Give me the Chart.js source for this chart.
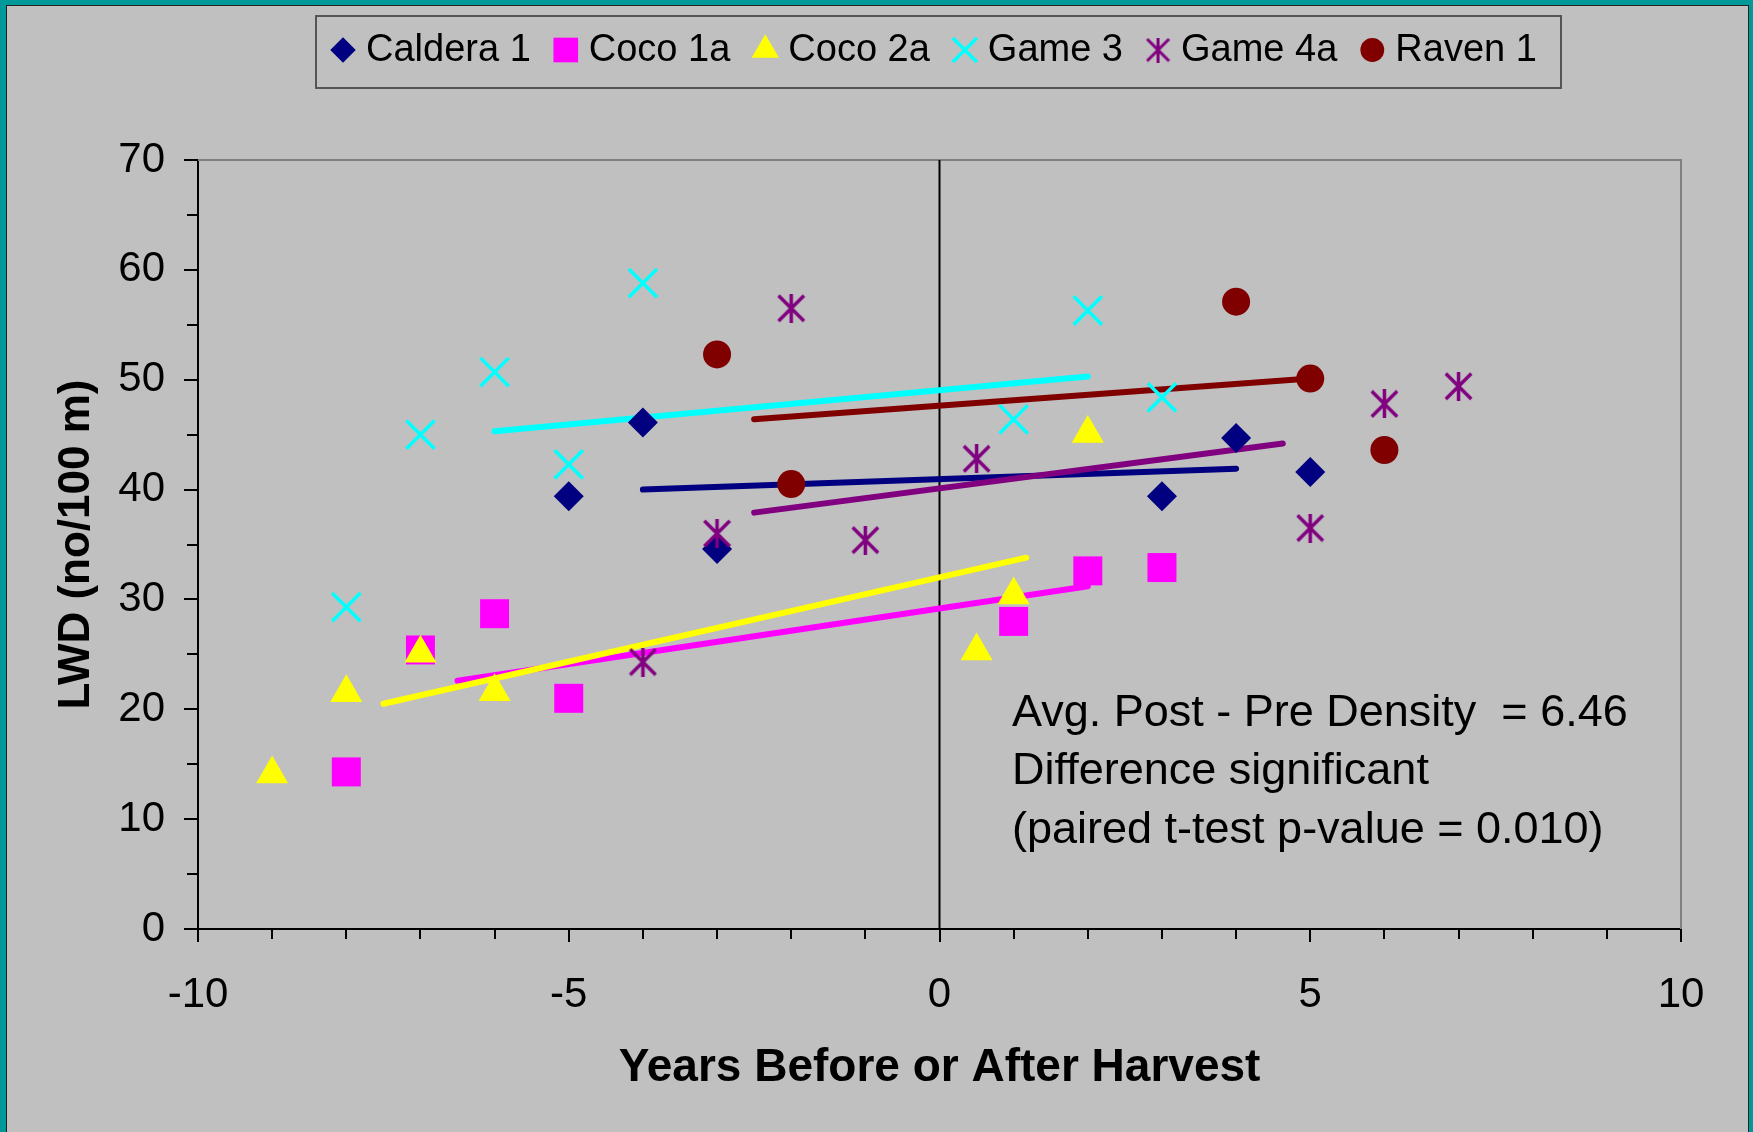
<!DOCTYPE html>
<html>
<head>
<meta charset="utf-8">
<script src="https://cdn.jsdelivr.net/npm/chart.js@4.4.1/dist/chart.umd.min.js"></script>
<style>
  html, body { margin: 0; padding: 0; background: #009999; }
</style>
</head>
<body>
<canvas id="grafico" width="1753" height="1132"></canvas>
<script>
const FUENTE = "'Liberation Sans', Arial, sans-serif";

// datos
const nombres = ["Caldera 1", "Coco 1a", "Coco 2a", "Game 3", "Game 4a", "Raven 1"];

const caldera1X = [-5, -4, -3, 3, 4, 5];
const caldera1Y = [39.4, 46.1, 34.6, 39.4, 44.7, 41.6];
const coco1aX = [-8, -7, -6, -5, 1, 2, 3];
const coco1aY = [14.3, 25.4, 28.7, 21.0, 28.0, 32.6, 32.9];
const coco2aX = [-9, -8, -7, -6, 0.5, 1, 2];
const coco2aY = [14.1, 21.5, 25.1, 21.6, 25.3, 30.4, 45.1];
const game3X = [-8, -7, -6, -5, -4, 1, 2, 3];
const game3Y = [29.3, 45.0, 50.7, 42.3, 58.8, 46.4, 56.3, 48.4];
const game4aX = [-4, -3, -2, -1, 0.5, 5, 6, 7];
const game4aY = [24.3, 36.0, 56.5, 35.4, 42.8, 36.5, 47.8, 49.4];
const raven1X = [-3, -2, 4, 5, 6];
const raven1Y = [52.3, 40.5, 57.1, 50.1, 43.6];

// lineas de tendencia (extremos)
const tendCaldera1X = [-4, 4.0];
const tendCaldera1Y = [40.0, 41.9];
const tendCoco1aX = [-6.5, 2.0];
const tendCoco1aY = [22.6, 31.2];
const tendCoco2aX = [-7.5, 1.17];
const tendCoco2aY = [20.5, 33.8];
const tendGame3X = [-6, 2.0];
const tendGame3Y = [45.3, 50.3];
const tendGame4aX = [-2.5, 4.63];
const tendGame4aY = [37.9, 44.2];
const tendRaven1X = [-2.5, 5];
const tendRaven1Y = [46.4, 50.1];

// linea de cosecha
const cosechaX = [0, 0];
const cosechaY = [0, 70];

const ticksX = [-10, -5, 0, 5, 10];
const ticksY = [0, 10, 20, 30, 40, 50, 60, 70];

const notas = [
  "Avg. Post - Pre Density  = 6.46",
  "Difference significant",
  "(paired t-test p-value = 0.010)"
];

function puntos(xs, ys) {
  return xs.map((x, i) => ({ x: x, y: ys[i] }));
}

function crearAsterisco(color, tam, grosor) {
  const c = document.createElement("canvas");
  c.width = tam;
  c.height = tam;
  const g = c.getContext("2d");
  g.strokeStyle = color;
  g.lineWidth = grosor;
  const a = grosor / 2, b = tam - grosor / 2;
  g.beginPath();
  g.moveTo(a, a); g.lineTo(b, b);
  g.moveTo(b, a); g.lineTo(a, b);
  g.moveTo(tam / 2, 0); g.lineTo(tam / 2, tam);
  g.stroke();
  return c;
}

const asterisco = crearAsterisco("#800080", 29, 3.5);
const asteriscoLeyenda = crearAsterisco("#800080", 25, 3);

function serie(nombre, xs, ys, color, estilo, radio, orden) {
  return {
    label: nombre,
    data: puntos(xs, ys),
    backgroundColor: color,
    borderColor: color,
    pointStyle: estilo,
    pointRadius: radio,
    pointHoverRadius: radio,
    pointBorderWidth: estilo === "crossRot" ? 3.5 : 0,
    showLine: false,
    order: orden,
    enLeyenda: true
  };
}

function tendencia(xs, ys, color, orden) {
  return {
    label: "",
    data: puntos(xs, ys),
    borderColor: color,
    backgroundColor: color,
    borderWidth: 6,
    borderCapStyle: "round",
    pointRadius: 0,
    showLine: true,
    order: orden
  };
}

const datasets = [
  serie(nombres[0], caldera1X, caldera1Y, "#000080", "rectRot", 15, 6),
  serie(nombres[1], coco1aX, coco1aY, "#ff00ff", "rect", 20.5, 5),
  serie(nombres[2], coco2aX, coco2aY, "#ffff00", "triangle", 18.5, 4),
  serie(nombres[3], game3X, game3Y, "#00ffff", "crossRot", 20, 3),
  serie(nombres[4], game4aX, game4aY, "#800080", asterisco, 15, 2),
  serie(nombres[5], raven1X, raven1Y, "#800000", "circle", 14, 1),
  tendencia(tendCaldera1X, tendCaldera1Y, "#000080", 15),
  tendencia(tendCoco1aX, tendCoco1aY, "#ff00ff", 14),
  tendencia(tendCoco2aX, tendCoco2aY, "#ffff00", 13),
  tendencia(tendGame3X, tendGame3Y, "#00ffff", 12),
  tendencia(tendGame4aX, tendGame4aY, "#800080", 11),
  tendencia(tendRaven1X, tendRaven1Y, "#800000", 10),
  {
    label: "",
    data: puntos(cosechaX, cosechaY),
    borderColor: "#000000",
    borderWidth: 2,
    pointRadius: 0,
    showLine: true,
    order: 20
  }
];

// marco, ticks menores, leyenda y texto
const decoracion = {
  id: "decoracion",
  beforeDraw(chart) {
    const ctx = chart.ctx;
    ctx.save();
    ctx.fillStyle = "#009999";
    ctx.fillRect(0, 0, chart.width, chart.height);
    ctx.fillStyle = "#222222";
    ctx.fillRect(6, 5, 1743, chart.height);
    ctx.fillStyle = "#c0c0c0";
    ctx.fillRect(7, 6, 1741, chart.height);
    ctx.restore();
  },
  beforeDatasetsDraw(chart) {
    const ctx = chart.ctx;
    const a = chart.chartArea;
    ctx.save();
    ctx.strokeStyle = "#808080";
    ctx.lineWidth = 2;
    ctx.beginPath();
    ctx.moveTo(a.left, a.top);
    ctx.lineTo(a.right, a.top);
    ctx.lineTo(a.right, a.bottom);
    ctx.stroke();
    ctx.restore();
  },
  afterDraw(chart) {
    const ctx = chart.ctx;
    const a = chart.chartArea;
    const sx = chart.scales.x;
    const sy = chart.scales.y;
    ctx.save();

    // ticks menores
    ctx.strokeStyle = "#000000";
    ctx.lineWidth = 2;
    ctx.beginPath();
    for (let v = 5; v < 70; v += 10) {
      const py = Math.round(sy.getPixelForValue(v));
      ctx.moveTo(a.left - 11, py);
      ctx.lineTo(a.left, py);
    }
    for (let v = -9; v < 10; v++) {
      if (v % 5 === 0) continue;
      const px = Math.round(sx.getPixelForValue(v));
      ctx.moveTo(px, a.bottom);
      ctx.lineTo(px, a.bottom + 10);
    }
    ctx.stroke();

    // leyenda
    ctx.strokeStyle = "#555555";
    ctx.lineWidth = 2;
    ctx.strokeRect(316, 16, 1245, 72);
    ctx.font = "38px " + FUENTE;
    ctx.textBaseline = "middle";
    ctx.textAlign = "left";
    let cx = 343;
    const cy = 50;
    chart.data.datasets.forEach((ds) => {
      if (!ds.enLeyenda) return;
      ctx.fillStyle = ds.backgroundColor;
      ctx.strokeStyle = ds.borderColor;
      ctx.lineWidth = ds.pointBorderWidth || 0;
      let estilo = ds.pointStyle === asterisco ? asteriscoLeyenda : ds.pointStyle;
      Chart.helpers.drawPoint(ctx, {
        pointStyle: estilo,
        radius: ds.pointRadius * 0.85,
        borderWidth: ds.pointBorderWidth || 0,
        rotation: 0
      }, cx, cy);
      ctx.fillStyle = "#000000";
      const tx = cx + 23;
      ctx.fillText(ds.label, tx, cy + 1);
      cx = tx + ctx.measureText(ds.label).width + 35;
    });

    // notas
    ctx.font = "45px " + FUENTE;
    ctx.fillStyle = "#000000";
    const filas = [714, 772, 831];
    notas.forEach((t, i) => ctx.fillText(t, 1012, filas[i]));
    ctx.restore();
  }
};

new Chart(document.getElementById("grafico"), {
  type: "scatter",
  data: { datasets: datasets },
  options: {
    responsive: false,
    animation: false,
    events: [],
    layout: { padding: { top: 160, right: 72, bottom: 0, left: 0 } },
    plugins: {
      legend: { display: false },
      tooltip: { enabled: false }
    },
    scales: {
      x: {
        type: "linear",
        min: ticksX[0],
        max: ticksX[ticksX.length - 1],
        afterFit: (s) => { s.height = 203; },
        afterBuildTicks: (s) => { s.ticks = ticksX.map((v) => ({ value: v })); },
        grid: { drawOnChartArea: false, drawTicks: true, tickLength: 13, color: "#000000", lineWidth: 2 },
        border: { display: true, color: "#000000", width: 2 },
        ticks: { color: "#000000", font: { family: FUENTE, size: 42 }, padding: 28, maxRotation: 0 },
        title: {
          display: true,
          text: "Years Before or After Harvest",
          color: "#000000",
          font: { family: FUENTE, size: 46, weight: "bold" },
          padding: { top: 0, bottom: 36 }
        }
      },
      y: {
        type: "linear",
        min: ticksY[0],
        max: ticksY[ticksY.length - 1],
        afterFit: (s) => { s.width = 198; },
        afterBuildTicks: (s) => { s.ticks = ticksY.map((v) => ({ value: v })); },
        grid: { drawOnChartArea: false, drawTicks: true, tickLength: 14, color: "#000000", lineWidth: 2 },
        border: { display: true, color: "#000000", width: 2 },
        ticks: { color: "#000000", font: { family: FUENTE, size: 42 }, padding: 19 },
        title: {
          display: true,
          text: "LWD (no/100 m)",
          color: "#000000",
          font: { family: FUENTE, size: 44, weight: "bold" },
          padding: { top: 50, bottom: 0 }
        }
      }
    }
  },
  plugins: [decoracion]
});
</script>
</body>
</html>
